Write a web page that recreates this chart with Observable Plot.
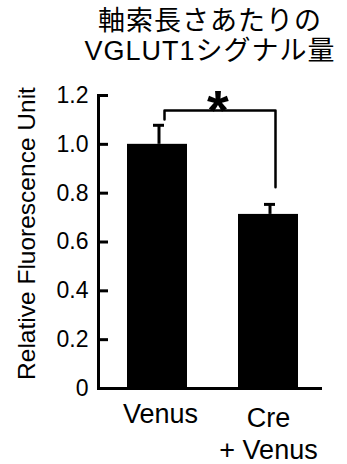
<!DOCTYPE html>
<html><head><meta charset="utf-8">
<script src="https://cdn.jsdelivr.net/npm/d3@7"></script>
<script src="https://cdn.jsdelivr.net/npm/@observablehq/plot@0.6"></script>
<style>
html,body{margin:0;padding:0;background:#fff;overflow:hidden}
#wrap{position:relative;width:347px;height:464px}
#title{position:absolute;left:73px;top:6px;width:274px;text-align:center;font-family:"Liberation Sans","Noto Sans CJK JP",sans-serif;font-size:27px;line-height:30px;color:#000;white-space:nowrap;letter-spacing:1px}
#chart{position:absolute;left:0;top:0}
</style></head><body>
<div id="wrap"><div id="chart"></div><div id="title"></div></div>
<script>
const titleLines = ["軸索長さあたりの", "VGLUT1シグナル量"];
const categories = ["Venus", "Cre + Venus"];
const xLabels = ["Venus", "Cre\n+ Venus"];
const means = [1.0, 0.713];
const errors = [0.078, 0.041];
const yTicks = [0, 0.2, 0.4, 0.6, 0.8, 1.0, 1.2];
const yTickLabels = ["0", "0.2", "0.4", "0.6", "0.8", "1.0", "1.2"];
const yLabel = "Relative Fluorescence Unit";
const sigMark = "*";
const bracketLevels = [1.102, 1.139, 1.139, 0.824];

document.getElementById("title").innerHTML = titleLines.map(t => `<div>${t}</div>`).join("");

const data = categories.map((c, i) => ({cat: c, label: xLabels[i], mean: means[i], err: errors[i]}));
const bracket = bracketLevels.map((y, i) => ({cat: i < 2 ? categories[0] : categories[1], y}));

const font = "Liberation Sans, Arial, sans-serif";
const chart = Plot.plot({
  width: 347, height: 464,
  marginLeft: 98, marginRight: 27, marginTop: 95, marginBottom: 76,
  style: {fontFamily: font, color: "#000", background: "#fff"},
  x: {type: "band", domain: categories, paddingInner: 0.455, paddingOuter: 0.219, align: 0.57, axis: null},
  y: {domain: [0, 1.2], axis: null},
  marks: [
    Plot.barY(data, {x: "cat", y: "mean", fill: "#000"}),
    Plot.ruleX(data, {x: "cat", y1: "mean", y2: d => d.mean + d.err, stroke: "#000", strokeWidth: 3, dx: 1.5}),
    Plot.tickY(data, {x: "cat", y: d => d.mean + d.err, stroke: "#000", strokeWidth: 3, insetLeft: 26, insetRight: 23}),
    Plot.line(bracket, {x: "cat", y: "y", stroke: "#000", strokeWidth: 2.5, dx: 7}),
    Plot.text([sigMark], {x: () => categories[0], y: () => 1.139, text: d => d, dx: 60.5, dy: 1, fontSize: 56, fontWeight: "bold", fill: "#000"}),
    Plot.tickY(yTicks, {y: d => d, stroke: "#000", strokeWidth: 3, insetRight: 212}),
    Plot.frame({anchor: "left", stroke: "#000", strokeWidth: 3}),
    Plot.frame({anchor: "bottom", stroke: "#000", strokeWidth: 3}),
    Plot.text(yTicks, {y: d => d, text: (d, i) => yTickLabels[i], frameAnchor: "left", textAnchor: "end", dx: -10, fontSize: 23, fill: "#000"}),
    Plot.text([yLabel], {text: d => d, frameAnchor: "left", textAnchor: "middle", rotate: -90, dx: -71, dy: -8.5, fontSize: 24.5, fill: "#000"}),
    Plot.text([data[0]], {x: "cat", text: "label", frameAnchor: "bottom", lineAnchor: "top", dy: 15.8, dx: 3, fontSize: 27, fill: "#000"}),
    Plot.text([data[1]], {x: "cat", text: "label", frameAnchor: "bottom", lineAnchor: "top", dy: 15.8, dx: 0, fontSize: 27, lineHeight: 1.185, fill: "#000"})
  ]
});
document.getElementById("chart").appendChild(chart);
</script>
</body></html>
